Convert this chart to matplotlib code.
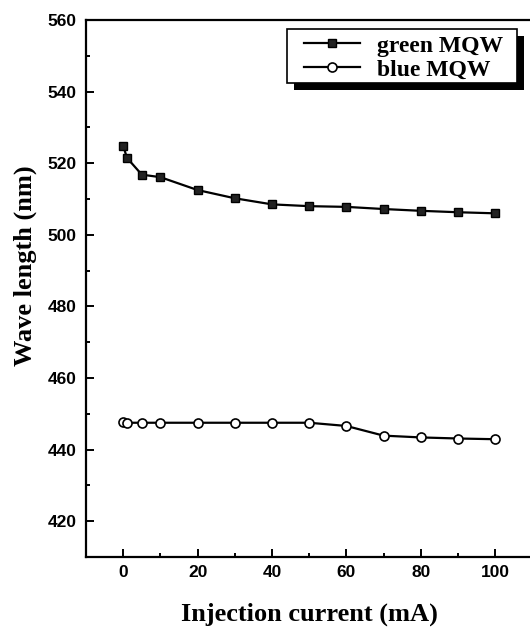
import matplotlib.pyplot as plt
from matplotlib.patches import Rectangle
from matplotlib.ticker import MultipleLocator

current = [0, 1, 5, 10, 20, 30, 40, 50, 60, 70, 80, 90, 100]
green_mqw = [524.9, 521.5, 516.8, 516.1, 512.5, 510.2, 508.5, 508.0, 507.8, 507.2, 506.7, 506.3, 506.0]
blue_mqw = [447.8, 447.5, 447.5, 447.5, 447.5, 447.5, 447.5, 447.5, 446.6, 443.9, 443.4, 443.1, 442.9]

serif = ["Liberation Serif", "DejaVu Serif"]
sans = ["Liberation Sans", "DejaVu Sans"]

fig = plt.figure(figsize=(5.3, 6.32), dpi=100)
ax = fig.add_axes([86 / 530, 75 / 632, 446.4 / 530, 537 / 632])

ax.plot(current, green_mqw, color="black", lw=1.6, marker="s", ms=5.5,
        mfc="#222222", mec="black", label="green MQW")
ax.plot(current, blue_mqw, color="black", lw=1.6, marker="o", ms=6.5,
        mfc="white", mec="black", mew=1.2, label="blue MQW")

ax.set_xlim(-10, 110)
ax.set_ylim(410, 560)
ax.xaxis.set_major_locator(MultipleLocator(20))
ax.xaxis.set_minor_locator(MultipleLocator(10))
ax.yaxis.set_major_locator(MultipleLocator(20))
ax.yaxis.set_minor_locator(MultipleLocator(10))
ax.set_xticks(range(0, 101, 20))
ax.tick_params(which="both", direction="in", width=1.4)
ax.tick_params(which="major", length=6, pad=6)
ax.tick_params(which="minor", length=3)
ax.tick_params(axis="y", which="major", pad=7)
for lab in ax.get_xticklabels() + ax.get_yticklabels():
    lab.set_family(sans)
    lab.set_fontweight("bold")
    lab.set_fontsize(12.5)
for sp in ax.spines.values():
    sp.set_linewidth(1.6)

ax.set_xlabel("Injection current (mA)", family=serif, fontweight="bold",
              fontsize=19, labelpad=16)
ax.set_ylabel("Wave length (nm)", family=serif, fontweight="bold",
              fontsize=19)
ax.yaxis.set_label_coords(-0.110, 0.542)

leg = ax.legend(loc="upper right", bbox_to_anchor=(0.9476, 0.983),
                prop={"family": serif, "weight": "bold", "size": 17},
                handlelength=2.4, frameon=False, borderaxespad=0,
                borderpad=0.25, labelspacing=0.1, handletextpad=0.7)
leg.set_zorder(6)

# legend box with a solid drop shadow
bx0, bx1 = 0.4503, 0.9655
by0, by1 = 0.8827, 0.9832
dx, dy = 7 / 446.4, 7 / 537
ax.add_patch(Rectangle((bx0 + dx, by0 - dy), bx1 - bx0, by1 - by0,
                       transform=ax.transAxes, facecolor="black",
                       edgecolor="none", zorder=4, clip_on=False))
ax.add_patch(Rectangle((bx0, by0), bx1 - bx0, by1 - by0,
                       transform=ax.transAxes, facecolor="white",
                       edgecolor="black", lw=1.2, zorder=5, clip_on=False))

fig.savefig("out.png", dpi=100)
